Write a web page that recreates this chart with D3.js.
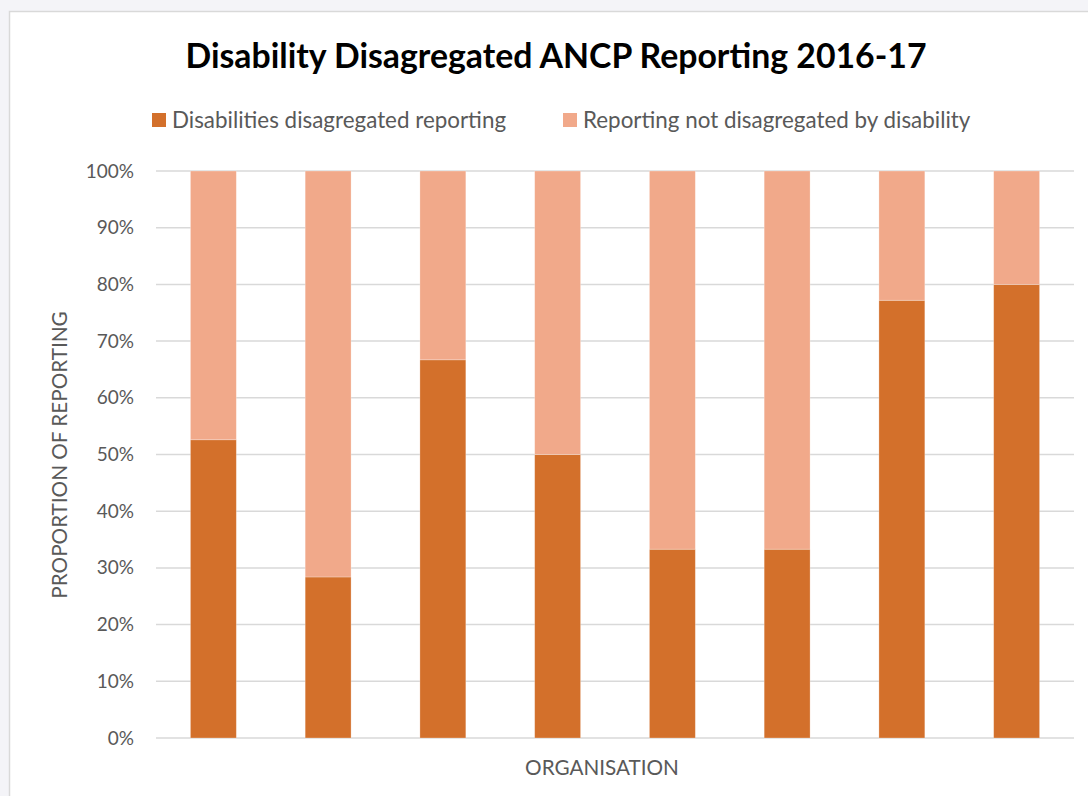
<!DOCTYPE html>
<html>
<head>
<meta charset="utf-8">
<script src="https://cdn.jsdelivr.net/npm/d3@7"></script>
<style>
  body { margin: 0; background: #f4f4f8; }
  svg { display: block; }
</style>
</head>
<body>
<svg width="1088" height="796"></svg>
<script>
var organisations = ["Org 1", "Org 2", "Org 3", "Org 4", "Org 5", "Org 6", "Org 7", "Org 8"];
var disaggregated = [52.6, 28.4, 66.7, 50.0, 33.3, 33.3, 77.2, 80.0];
var notDisaggregated = [47.4, 71.6, 33.3, 50.0, 66.7, 66.7, 22.8, 20.0];
var seriesNames = ["Disabilities disagregated reporting", "Reporting not disagregated by disability"];
var seriesColors = ["#d3702b", "#f1a98a"];
var yTicks = [0, 10, 20, 30, 40, 50, 60, 70, 80, 90, 100];

var svg = d3.select("svg"),
    width = +svg.attr("width"),
    height = +svg.attr("height");

var FONT = "Lato, 'Open Sans', sans-serif";

// chart area box
svg.append("rect")
    .attr("x", 9.5).attr("y", 11.5)
    .attr("width", width).attr("height", height)
    .attr("fill", "#fff")
    .attr("stroke", "#d9d9d9")
    .attr("stroke-width", 1.5);

var margin = {left: 156, right: 14, top: 171, bottom: 58};
var plotW = width - margin.left - margin.right,
    plotH = height - margin.top - margin.bottom;

var x = d3.scaleBand()
    .domain(organisations)
    .range([margin.left, margin.left + plotW])
    .paddingInner(0.6)
    .paddingOuter(0.3);

var y = d3.scaleLinear()
    .domain([0, 100])
    .range([margin.top + plotH, margin.top]);

// gridlines
svg.append("g")
    .selectAll("line")
    .data(yTicks)
    .enter().append("line")
    .attr("x1", margin.left)
    .attr("x2", margin.left + plotW)
    .attr("y1", function(d) { return y(d); })
    .attr("y2", function(d) { return y(d); })
    .attr("stroke", "#d9d9d9")
    .attr("stroke-width", 1.5);

// y axis labels
var yAxis = d3.axisLeft(y)
    .tickValues(yTicks)
    .tickSize(0)
    .tickPadding(22)
    .tickFormat(function(d) { return d + "%"; });

var yg = svg.append("g")
    .attr("transform", "translate(" + margin.left + ",0)")
    .call(yAxis);
yg.select(".domain").remove();
yg.selectAll("text")
    .attr("fill", "#595959")
    .style("font-family", FONT)
    .style("font-size", "19px");

// stacked bars
var rows = organisations.map(function(o, i) {
  return {org: o, a: disaggregated[i], b: notDisaggregated[i]};
});
var stack = d3.stack().keys(["a", "b"]);
var layers = stack(rows);

svg.append("g")
    .selectAll("g")
    .data(layers)
    .enter().append("g")
    .attr("fill", function(d, i) { return seriesColors[i]; })
    .selectAll("rect")
    .data(function(d) { return d; })
    .enter().append("rect")
    .attr("x", function(d) { return x(d.data.org); })
    .attr("width", x.bandwidth())
    .attr("y", function(d) { return y(d[1]); })
    .attr("height", function(d) { return y(d[0]) - y(d[1]); })
    .attr("stroke", "#fff")
    .attr("stroke-opacity", 0.35)
    .attr("stroke-width", 0.75);

// title
svg.append("text")
    .attr("x", 556)
    .attr("y", 68)
    .attr("text-anchor", "middle")
    .style("font-family", FONT)
    .style("font-weight", "bold")
    .style("font-size", "33.8px")
    .attr("fill", "#000")
    .text("Disability Disagregated ANCP Reporting 2016-17");

// legend
var legendX = [152, 563];
var legend = svg.append("g")
    .selectAll("g")
    .data(seriesNames)
    .enter().append("g")
    .attr("transform", function(d, i) { return "translate(" + legendX[i] + ",113)"; });
legend.append("rect")
    .attr("width", 14).attr("height", 14)
    .attr("fill", function(d, i) { return seriesColors[i]; });
legend.append("text")
    .attr("x", 20)
    .attr("y", 15)
    .attr("fill", "#595959")
    .style("font-family", FONT)
    .style("font-size", "22.4px")
    .text(function(d) { return d; });

// axis titles
svg.append("text")
    .attr("transform", "translate(67," + 455 + ") rotate(-90)")
    .attr("text-anchor", "middle")
    .attr("fill", "#595959")
    .style("font-family", FONT)
    .style("font-size", "20.7px")
    .text("PROPORTION OF REPORTING");

svg.append("text")
    .attr("x", 602)
    .attr("y", 775)
    .attr("text-anchor", "middle")
    .attr("fill", "#595959")
    .style("font-family", FONT)
    .style("font-size", "20.7px")
    .text("ORGANISATION");
</script>
</body>
</html>
